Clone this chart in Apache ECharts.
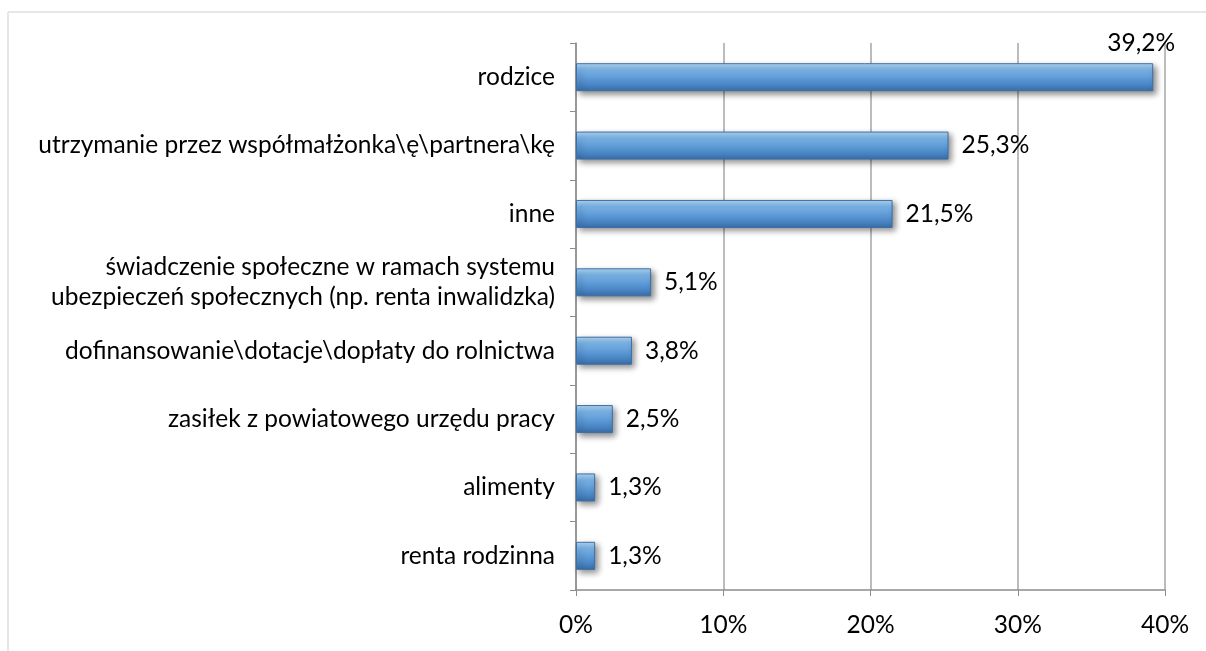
<!DOCTYPE html>
<html><head><meta charset="utf-8">
<script src="https://cdn.jsdelivr.net/npm/echarts@6/dist/echarts.min.js"></script>
<style>html,body{margin:0;padding:0;background:#fff}#c{width:1206px;height:651px}</style>
</head><body><div id="c"></div>
<script>
const categories = [
  'rodzice',
  'utrzymanie przez współmałżonka\\ę\\partnera\\kę',
  'inne',
  'świadczenie społeczne w ramach systemu\nubezpieczeń społecznych (np. renta inwalidzka)',
  'dofinansowanie\\dotacje\\dopłaty do rolnictwa',
  'zasiłek z powiatowego urzędu pracy',
  'alimenty',
  'renta rodzinna'
];
const values = [39.2, 25.3, 21.5, 5.1, 3.8, 2.5, 1.3, 1.3];
const xTicks = [0, 10, 20, 30, 40];

const FONT = 'Lato';
const chart = echarts.init(document.getElementById('c'), null, {renderer: 'canvas'});
const barColor = new echarts.graphic.LinearGradient(0, 0, 0, 1, [
  {offset: 0, color: '#b3daf7'},
  {offset: 0.25, color: '#79b2e6'},
  {offset: 0.7, color: '#4f8ccc'},
  {offset: 1, color: '#3a6ea8'}
]);
const data = values.map((v, i) => {
  const d = {value: v};
  if (i === 0) {
    d.label = {position: 'right', offset: [-59, -34]};
  }
  return d;
});
chart.setOption({
  animation: false,
  graphic: [
    {type: 'line', shape: {x1: 8, y1: 12, x2: 1206, y2: 12}, style: {stroke: '#e6e6e6', lineWidth: 2}},
    {type: 'line', shape: {x1: 8, y1: 12, x2: 8, y2: 651}, style: {stroke: '#e6e6e6', lineWidth: 2}}
  ],
  grid: {left: 576, right: 41, top: 43, bottom: 61},
  xAxis: {
    type: 'value', min: 0, max: 40, interval: 10,
    axisLine: {show: true, lineStyle: {color: '#8c8c8c', width: 1.5}},
    axisTick: {show: true, length: 6, lineStyle: {color: '#8c8c8c'}},
    splitLine: {show: true, lineStyle: {color: '#a6a6a6', width: 1.5}},
    axisLabel: {
      formatter: v => xTicks.includes(v) ? v + '%' : '',
      color: '#000', fontFamily: FONT, fontSize: 24.5, margin: 23
    }
  },
  yAxis: {
    type: 'category', inverse: true, data: categories,
    axisLine: {show: true, lineStyle: {color: '#8c8c8c', width: 1.5}},
    axisTick: {show: true, length: 6, lineStyle: {color: '#8c8c8c'}},
    axisLabel: {color: '#000', fontFamily: FONT, fontSize: 24.5, margin: 21, lineHeight: 30, align: 'right'}
  },
  series: [{
    type: 'bar', data: data, barWidth: 28,
    itemStyle: {
      color: barColor, borderColor: '#3d6fa5', borderWidth: 1,
      shadowColor: 'rgba(0,0,0,0.45)', shadowBlur: 6, shadowOffsetX: 3, shadowOffsetY: 3
    },
    label: {
      show: true, position: 'right', distance: 13,
      formatter: p => p.value.toFixed(1).replace('.', ',') + '%',
      color: '#000', fontFamily: FONT, fontSize: 24.5
    }
  }]
});
</script></body></html>
